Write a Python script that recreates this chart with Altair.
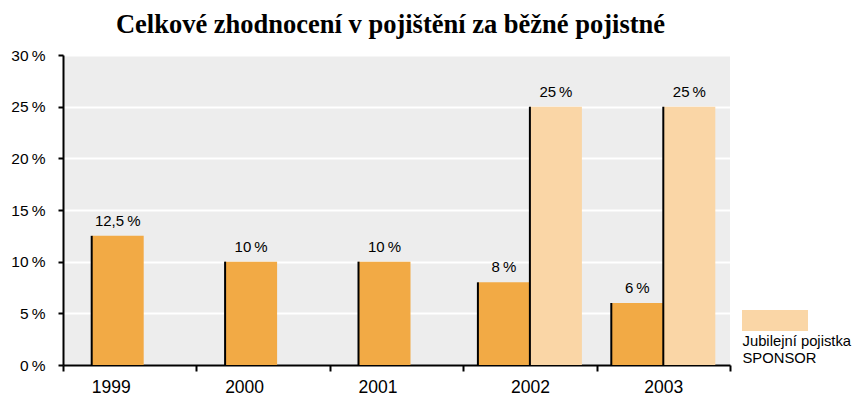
import altair as alt
import pandas as pd

years = ["1999", "2000", "2001", "2002", "2003"]
standard = [12.5, 10, 10, 8, 6]
sponsor_years = ["2002", "2003"]
sponsor = [25, 25]
series_names = ["Běžné pojištění", "Jubilejní pojistka SPONSOR"]
legend_lines = ["Jubilejní pojistka", "SPONSOR"]
y_ticks = [0, 5, 10, 15, 20, 25, 30]
title = "Celkové zhodnocení v pojištění za běžné pojistné"

DARK = "#F2AA45"
LIGHT = "#FAD6A6"
BG = "#EDEDED"
FONT = "Liberation Sans"
TS = "\u2009"  # thin space before %

rows = [{"year": y, "series": series_names[0], "value": v} for y, v in zip(years, standard)]
rows += [{"year": y, "series": series_names[1], "value": v} for y, v in zip(sponsor_years, sponsor)]
df = pd.DataFrame(rows)

W, H = 667, 310
BW = 52

base = alt.Chart(df).transform_joinaggregate(
    n="count()", groupby=["year"]
).transform_calculate(
    label=f"replace(format(datum.value, ''), '.', ',') + '{TS}%'"
)

x_enc = alt.X(
    "year:N", sort=years, title=None,
    scale=alt.Scale(domain=years, paddingInner=0, paddingOuter=0),
    axis=alt.Axis(
        tickBand="extent", tickSize=6, tickWidth=2, tickColor="black",
        domainColor="black", domainWidth=2, labelAngle=0,
        labelFont=FONT, labelFontSize=17.5, labelColor="black", labelPadding=7,
        labelOffset={"condition": {"test": "toNumber(datum.value) < 2002", "value": -19}, "value": 0},
        grid=False,
    ),
)
y_enc = alt.Y(
    "value:Q", title=None,
    scale=alt.Scale(domain=[0, 30], nice=False, zero=True),
    axis=alt.Axis(
        values=y_ticks, labelExpr=f"datum.value + '{TS}%'",
        tickSize=5, tickWidth=2, tickColor="black",
        domainColor="black", domainWidth=2,
        labelFont=FONT, labelFontSize=15.5, labelColor="black", labelPadding=13,
        grid=True, gridColor="white", gridWidth=2,
    ),
)


def group(filter_expr, color, offset):
    sub = base.transform_filter(filter_expr)
    bars = sub.mark_bar(width=BW, xOffset=offset, color=color).encode(x=x_enc, y=y_enc)
    edge = sub.mark_rule(xOffset=offset - BW / 2, color="black", strokeWidth=2).encode(
        x=alt.X("year:N", sort=years), y=alt.Y("value:Q"), y2=alt.datum(0)
    )
    txt = sub.mark_text(
        xOffset=offset, dy=-7, baseline="bottom", font=FONT, fontSize=15, color="black"
    ).encode(x=alt.X("year:N", sort=years), y=alt.Y("value:Q"), text="label:N")
    return [bars, edge, txt]


layers = []
layers += group(f"datum.series == '{series_names[0]}' && datum.n == 1", DARK, -12)
layers += group(f"datum.series == '{series_names[0]}' && datum.n > 1", DARK, -26)
layers += group(f"datum.series == '{series_names[1]}'", LIGHT, 26)

leg_df = pd.DataFrame({"series": [series_names[1]]})
leg_rect = alt.Chart(leg_df).mark_rect(color=LIGHT).encode(
    x=alt.value(679), x2=alt.value(745), y=alt.value(255), y2=alt.value(276)
)
leg_text = alt.Chart(leg_df).mark_text(
    align="left", baseline="alphabetic", font=FONT, fontSize=14.8, lineHeight=17, color="black"
).encode(x=alt.value(679.5), y=alt.value(291), text=alt.value(legend_lines))

chart = alt.layer(*layers, leg_rect, leg_text).properties(
    width=W, height=H,
    title=alt.TitleParams(
        title, font="Liberation Serif", fontSize=26.5, fontWeight="bold",
        color="black", anchor="middle", offset=10, dx=-6,
    ),
    autosize=alt.AutoSizeParams(type="none"),
    padding={"left": 55, "top": 47, "right": 123, "bottom": 30},
    background="white",
).configure_view(fill=BG, stroke=None)

chart.save("out.html", embed_options={"renderer": "svg", "actions": False})
